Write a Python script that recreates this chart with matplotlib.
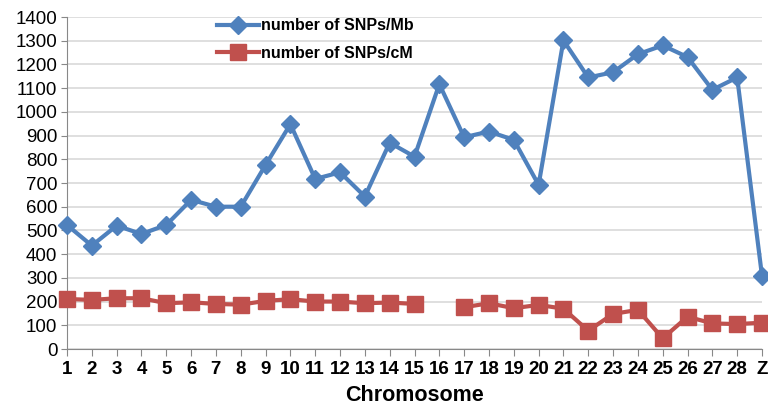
import numpy as np
import matplotlib
matplotlib.use("Agg")
import matplotlib.pyplot as plt

plt.rcParams['font.family'] = ['Liberation Sans', 'DejaVu Sans']

chromosomes = [str(i) for i in range(1, 29)] + ['Z']
snps_per_mb = [523, 436, 520, 485, 523, 629, 600, 600, 776, 948,
               717, 745, 643, 870, 811, 1117, 893, 917, 882, 692,
               1301, 1145, 1167, 1243, 1280, 1231, 1093, 1145, 308]
snps_per_cm = [211, 207, 214, 214, 193, 197, 190, 187, 203, 210,
               200, 200, 193, 196, 190, np.nan, 176, 193, 172, 186,
               170, 77, 148, 165, 45, 136, 108, 105, 111]

blue = '#4F81BD'
red = '#C0504D'

fig = plt.figure(figsize=(7.68, 4.09), dpi=100)
ax = fig.add_axes([67/768, 1 - 349/409, (762 - 67)/768, (349 - 17)/409])

x = np.arange(len(chromosomes))
ax.plot(x, snps_per_mb, color=blue, lw=3, marker='D', ms=9,
        label='number of SNPs/Mb', clip_on=False, zorder=3)
ax.plot(x, snps_per_cm, color=red, lw=3, marker='s', ms=11,
        label='number of SNPs/cM', clip_on=False, zorder=3)

ax.set_xlim(0, len(chromosomes) - 1)
ax.set_ylim(0, 1400)
ax.set_yticks(range(0, 1401, 100))
ax.set_xticks(x)
ax.set_xticklabels(chromosomes, fontweight='bold', fontsize=13.5)
ax.tick_params(axis='y', labelsize=13.5, length=4, color='#888888', pad=3)
ax.tick_params(axis='x', length=5, color='#888888', pad=4)
ax.grid(axis='y', color='#d9d9d9', lw=1.2)
ax.set_axisbelow(True)
for s in ['top', 'right']:
    ax.spines[s].set_visible(False)
ax.spines['left'].set_color('#888888')
ax.spines['bottom'].set_color('#888888')
ax.set_xlabel('Chromosome', fontweight='bold', fontsize=15.5, labelpad=5)

ax.legend(loc='upper left', bbox_to_anchor=(0.198, 1.035), frameon=False,
          prop={'weight': 'bold', 'size': 11.5}, handlelength=2.6,
          handletextpad=0.15, labelspacing=0.8, borderpad=0.3)

fig.savefig('out.png', dpi=100)
